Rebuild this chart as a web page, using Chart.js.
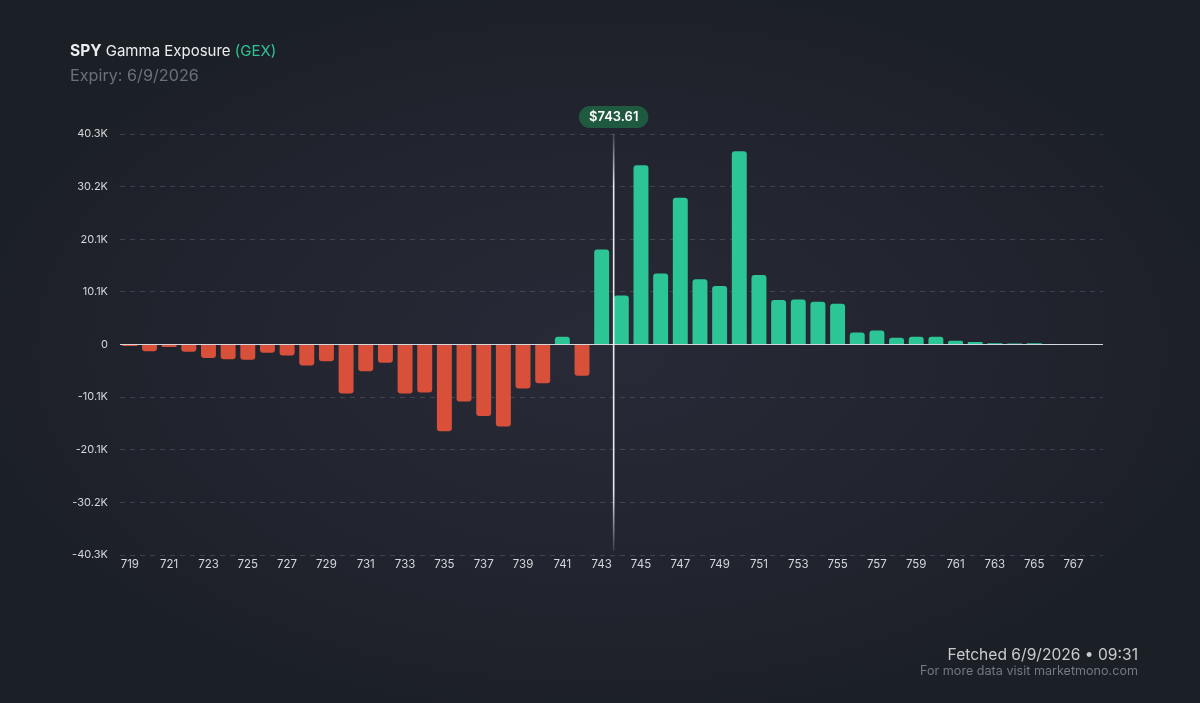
<!DOCTYPE html>
<html><head><meta charset="utf-8">
<script src="https://cdn.jsdelivr.net/npm/chart.js@4.4.1/dist/chart.umd.min.js"></script>
<style>
html,body{margin:0;padding:0;width:1200px;height:703px;overflow:hidden;}
body{background:radial-gradient(ellipse 55% 55% at 50% 50%, #282b37 0%, #22252f 55%, #1b1f26 100%);font-family:Inter,"Noto Sans",sans-serif;position:relative;}
#c{position:absolute;left:0;top:0;}
.t{position:absolute;left:70px;top:41px;font-size:15px;color:#eceef1;}
.t b{font-weight:700;font-size:15.5px;}
.t span{color:#2fc497;}
.s{position:absolute;left:70px;top:65px;font-size:16.2px;color:#6b7079;}
.f1{position:absolute;right:62px;top:645px;font-size:15.6px;color:#c9cbcf;}
.f2{position:absolute;right:62px;top:663px;font-size:12.6px;color:#747982;}
</style></head>
<body>
<canvas id="c" width="1200" height="703"></canvas>
<div class="t"><b>SPY</b> Gamma Exposure <span>(GEX)</span></div>
<div class="s">Expiry: 6/9/2026</div>
<div class="f1">Fetched 6/9/2026 • 09:31</div>
<div class="f2">For more data visit marketmono.com</div>
<script>
const strikes = [719,720,721,722,723,724,725,726,727,728,729,730,731,732,733,734,735,736,737,738,739,740,741,742,743,744,745,746,747,748,749,750,751,752,753,754,755,756,757,758,759,760,761,762,763,764,765,766,767,768];
const gex = [-300,-1300,-500,-1400,-2600,-2800,-2900,-1600,-2100,-4000,-3200,-9400,-5100,-3500,-9400,-9200,-16600,-10900,-13700,-15700,-8400,-7400,1500,-6000,18200,9400,34300,13600,28100,12500,11200,37000,13300,8500,8600,8200,7800,2300,2700,1300,1500,1500,700,500,250,200,250,50,0,0];
const spotPrice = 743.61;
const spotLabel = "$743.61";
const yMax = 40300;
const yStep = 10075;

const labels = strikes.map(String);
const green = '#2bc596', red = '#d9503a';

function fmtK(v){
  if (Math.abs(v) < 1) return '0';
  return (v/1000).toFixed(1) + 'K';
}

const overlay = {
  id:'overlay',
  afterDatasetsDraw(chart){
    const {ctx, chartArea:a, scales:{x,y}} = chart;
    const y0 = y.getPixelForValue(0);
    ctx.save();
    ctx.strokeStyle = 'rgba(230,232,236,0.9)';
    ctx.lineWidth = 1.2;
    ctx.beginPath(); ctx.moveTo(a.left, y0); ctx.lineTo(a.right, y0); ctx.stroke();
    const i0 = strikes[0];
    const idx = spotPrice - i0;
    const lo = Math.floor(idx);
    const px = x.getPixelForValue(lo) + (idx-lo)*(x.getPixelForValue(lo+1)-x.getPixelForValue(lo));
    const g = ctx.createLinearGradient(0, a.top, 0, a.bottom);
    g.addColorStop(0,'rgba(255,255,255,0.15)');
    g.addColorStop(0.12,'rgba(255,255,255,0.9)');
    g.addColorStop(0.85,'rgba(255,255,255,0.9)');
    g.addColorStop(1,'rgba(255,255,255,0.05)');
    ctx.strokeStyle = g; ctx.lineWidth = 1.6;
    ctx.beginPath(); ctx.moveTo(px, a.top); ctx.lineTo(px, a.bottom-4); ctx.stroke();
    ctx.font = '600 13px Inter, "Noto Sans", sans-serif';
    const tw = ctx.measureText(spotLabel).width;
    const w = tw + 20, h = 22, cy = 117;
    const lx = px - w/2, ty = cy - h/2;
    ctx.fillStyle = '#1f5a40';
    ctx.beginPath();
    ctx.roundRect(lx, ty, w, h, 11);
    ctx.fill();
    ctx.fillStyle = '#ffffff';
    ctx.textAlign='center'; ctx.textBaseline='middle';
    ctx.fillText(spotLabel, px, cy+0.5);
    ctx.restore();
  }
};

new Chart(document.getElementById('c'), {
  type:'bar',
  data:{labels, datasets:[{
    data:gex,
    backgroundColor: gex.map(v => v >= 0 ? green : red),
    borderRadius:3,
    borderSkipped:'start',
    barPercentage:0.76,
    categoryPercentage:1
  }]},
  options:{
    responsive:false, animation:false,
    layout:{padding:{left:0,right:97,top:134,bottom:118}},
    plugins:{legend:{display:false},tooltip:{enabled:false}},
    scales:{
      x:{
        grid:{display:false,drawTicks:false},
        border:{display:false},
        ticks:{color:'#d4d6da',font:{family:'Inter, "Noto Sans", sans-serif',size:11.5},autoSkip:false,maxRotation:0,padding:3,
          callback:(v,i)=> i%2===0 ? labels[i] : ''},
        afterFit(s){s.height=30;}
      },
      y:{
        min:-yMax, max:yMax,
        afterBuildTicks(s){ const t=[]; for(let k=-4;k<=4;k++) t.push({value:k*yStep}); s.ticks=t; },
        grid:{color:'rgba(120,126,140,0.35)',drawTicks:false,lineWidth:1},
        border:{display:false,dash:[5,5]},
        ticks:{color:'#d4d6da',font:{family:'Inter, "Noto Sans", sans-serif',size:11},padding:12,callback:v=>fmtK(v)},
        afterFit(s){s.width=120;}
      }
    }
  },
  plugins:[overlay]
});
</script>
</body></html>
